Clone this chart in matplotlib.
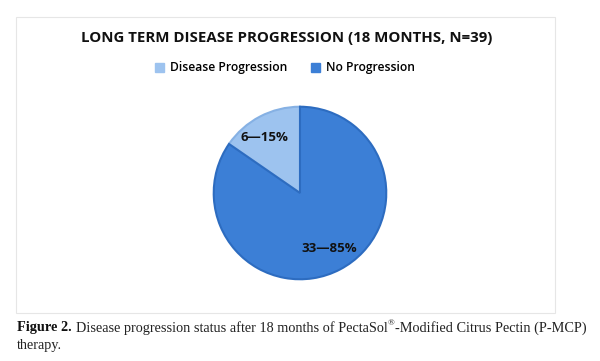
import matplotlib
matplotlib.use("Agg")
import matplotlib.pyplot as plt
import numpy as np
from matplotlib.patches import Rectangle

title = "LONG TERM DISEASE PROGRESSION (18 MONTHS, N=39)"
categories = ["Disease Progression", "No Progression"]
counts = [6, 33]
percents = [15, 85]
colors = ["#9dc3ef", "#3c7fd6"]
edge_colors = ["#86b1e4", "#2d6cc0"]

fig = plt.figure(figsize=(6, 3.61), dpi=100)
fig.patch.set_facecolor("white")

# chart frame
fig.patches.append(Rectangle((16/600, 1-313/361), (555-16)/600, (313-17)/361,
                             transform=fig.transFigure, fill=False,
                             edgecolor="#e6e6e6", linewidth=0.8))

ax = fig.add_axes([212/600, (361-193-88)/361, 176/600, 176/361])
labels = [f"{c}\u2014{p}%" for c, p in zip(counts, percents)]
wedges, texts = ax.pie(counts, colors=colors, startangle=90, counterclock=True,
                       labels=labels, labeldistance=0.72,
                       wedgeprops=dict(linewidth=1.5),
                       textprops=dict(fontsize=9.5, fontweight="bold", color="#111111",
                                      family="Open Sans"))
for w, ec in zip(wedges, edge_colors):
    w.set_edgecolor(ec)
for t in texts:
    t.set_ha("center")
    t.set_va("center")
# nudge small label to match reference placement
x, y = texts[0].get_position()
texts[0].set_position((x - 0.08, y + 0.0))
ax.set_xlim(-1.02, 1.02)
ax.set_ylim(-1.02, 1.02)
ax.set_aspect("equal")
ax.axis("off")

fig.text(0.477, 1-38/361, title, ha="center", va="center", fontsize=10.8,
         fontweight="bold", family="Open Sans", color="#111111")

handles = [Rectangle((0, 0), 1, 1, facecolor=c, edgecolor=c) for c in colors]
fig.legend(handles, categories, loc="center", bbox_to_anchor=(0.475, 1-68/361),
           ncol=2, frameon=False, handlelength=0.7, handleheight=0.7,
           handletextpad=0.5, columnspacing=2.0,
           prop=dict(family="Open Sans", size=8.7, weight="semibold"))

cap_y1 = 1-328/361
cap_y2 = 1-346/361
fs = 10.3
t1 = fig.text(17/600, cap_y1, "Figure 2.", ha="left", va="center", fontsize=fs,
              fontweight="bold", family="Liberation Serif", color="#111111")
fig.canvas.draw()
bb = t1.get_window_extent()
x_next = (bb.x1 + 4) / fig.bbox.width
t2 = fig.text(x_next, cap_y1, "Disease progression status after 18 months of PectaSol",
              ha="left", va="center", fontsize=fs, family="Liberation Serif", color="#222222")
fig.canvas.draw()
bb2 = t2.get_window_extent()
x_r = (bb2.x1 + 0.5) / fig.bbox.width
t3 = fig.text(x_r, cap_y1 + 0.012, "\u00ae", ha="left", va="center", fontsize=6.5,
              family="Liberation Serif", color="#222222")
fig.canvas.draw()
bb3 = t3.get_window_extent()
x_n = (bb3.x1 + 0.5) / fig.bbox.width
fig.text(x_n, cap_y1, "-Modified Citrus Pectin (P-MCP)", ha="left", va="center",
         fontsize=fs, family="Liberation Serif", color="#222222")
fig.text(17/600, cap_y2, "therapy.", ha="left", va="center", fontsize=fs,
         family="Liberation Serif", color="#222222")

fig.savefig("out.png", dpi=100, facecolor="white")
